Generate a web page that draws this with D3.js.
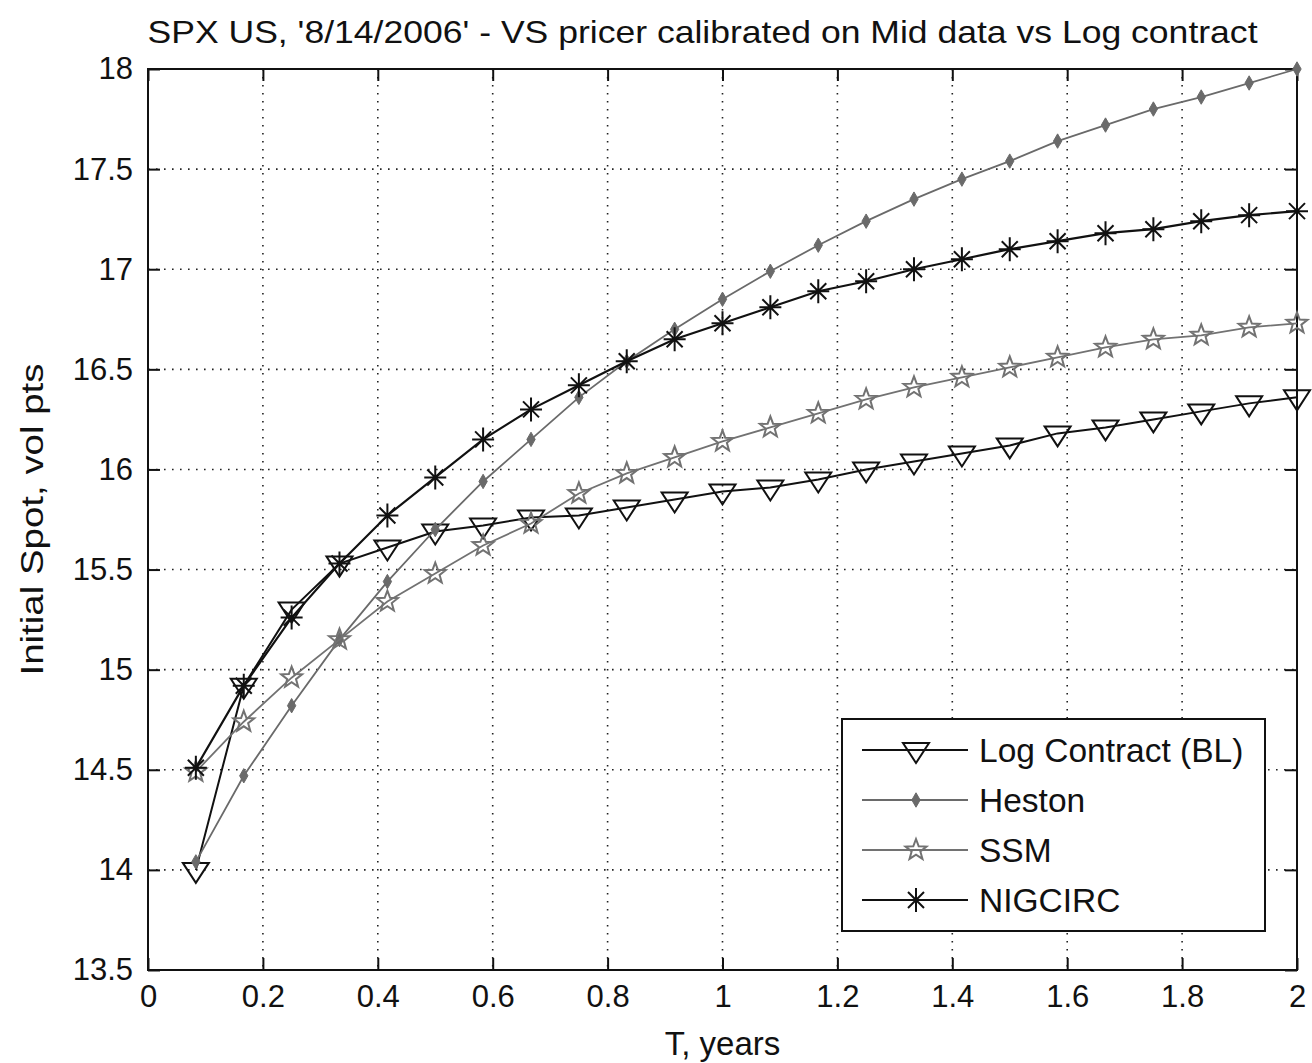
<!DOCTYPE html>
<html>
<head>
<meta charset="utf-8">
<script src="https://cdn.jsdelivr.net/npm/d3@7"></script>
<style>
  body { margin: 0; background: #fff; }
  text { font-family: 'Liberation Sans', Arial, sans-serif; fill: #111; }
</style>
</head>
<body>
<script>
// maturities, years (monthly points)
const T = [0.0833, 0.1667, 0.25, 0.3333, 0.4167, 0.5, 0.5833, 0.6667, 0.75, 0.8333, 0.9167, 1,
  1.0833, 1.1667, 1.25, 1.3333, 1.4167, 1.5, 1.5833, 1.6667, 1.75, 1.8333, 1.9167, 2]

const logContract = [14.00, 14.92, 15.30, 15.53, 15.61, 15.69, 15.72, 15.76, 15.77, 15.81, 15.85, 15.89,
  15.91, 15.95, 16.00, 16.04, 16.08, 16.12, 16.18, 16.21, 16.25, 16.29, 16.33, 16.36]
const heston = [14.04, 14.47, 14.82, 15.15, 15.44, 15.70, 15.94, 16.15, 16.36, 16.54, 16.70, 16.85,
  16.99, 17.12, 17.24, 17.35, 17.45, 17.54, 17.64, 17.72, 17.80, 17.86, 17.93, 18.00]
const ssm = [14.49, 14.74, 14.96, 15.15, 15.34, 15.48, 15.62, 15.73, 15.88, 15.98, 16.06, 16.14,
  16.21, 16.28, 16.35, 16.41, 16.46, 16.51, 16.56, 16.61, 16.65, 16.67, 16.71, 16.73]
const nigcirc = [14.51, 14.92, 15.26, 15.53, 15.77, 15.96, 16.15, 16.30, 16.42, 16.54, 16.65, 16.73,
  16.81, 16.89, 16.94, 17.00, 17.05, 17.10, 17.14, 17.18, 17.20, 17.24, 17.27, 17.29]

const seriesNames = ['Log Contract (BL)', 'Heston', 'SSM', 'NIGCIRC']
const xTicks = [0, 0.2, 0.4, 0.6, 0.8, 1, 1.2, 1.4, 1.6, 1.8, 2]
const yTicks = [13.5, 14, 14.5, 15, 15.5, 16, 16.5, 17, 17.5, 18]

const width = 1312
const height = 1063
const margin = { top: 69, right: 15, bottom: 93, left: 148 }

const svg = d3.select('body').append('svg')
  .attr('width', width)
  .attr('height', height)
  .attr('viewBox', [0, 0, width, height])

const x = d3.scaleLinear().domain([0, 2]).range([margin.left, width - margin.right])
const y = d3.scaleLinear().domain([13.5, 18]).range([height - margin.bottom, margin.top])

// dotted grid
const grid = svg.append('g')
  .attr('stroke', '#222')
  .attr('stroke-width', 1.6)
  .attr('stroke-dasharray', '1.6 6.4')
grid.selectAll('.gx')
  .data(xTicks.slice(1, -1))
  .join('line')
    .attr('x1', d => x(d)).attr('x2', d => x(d))
    .attr('y1', y(18)).attr('y2', y(13.5))
grid.selectAll('.gy')
  .data(yTicks.slice(1, -1))
  .join('line')
    .attr('y1', d => y(d)).attr('y2', d => y(d))
    .attr('x1', x(0)).attr('x2', x(2))

// axes, ticks pointing inward
const styleAxis = (g) => {
  g.select('.domain').remove()
  g.selectAll('.tick line').attr('stroke', '#111').attr('stroke-width', 2)
  g.selectAll('.tick text').attr('font-size', 31).attr('fill', '#111')
}
svg.append('g')
  .attr('transform', `translate(0,${y(13.5)})`)
  .call(d3.axisBottom(x).tickValues(xTicks).tickFormat(d => d).tickSize(-12).tickPadding(15))
  .call(styleAxis)
svg.append('g')
  .attr('transform', `translate(${x(0)},0)`)
  .call(d3.axisLeft(y).tickValues(yTicks).tickFormat(d => d).tickSize(-12).tickPadding(15))
  .call(styleAxis)
svg.append('g')
  .attr('transform', `translate(0,${y(18)})`)
  .call(d3.axisTop(x).tickValues(xTicks).tickFormat('').tickSize(-12))
  .call(styleAxis)
svg.append('g')
  .attr('transform', `translate(${x(2)},0)`)
  .call(d3.axisRight(y).tickValues(yTicks).tickFormat('').tickSize(-12))
  .call(styleAxis)

svg.selectAll('.axis text').attr('font-family', 'Liberation Sans, Arial')

// frame
svg.append('rect')
  .attr('x', x(0)).attr('y', y(18))
  .attr('width', x(2) - x(0)).attr('height', y(13.5) - y(18))
  .attr('fill', 'none')
  .attr('stroke', '#111')
  .attr('stroke-width', 2)

// marker shapes
const star = (ro, ri) => {
  const pts = d3.range(10).map(i => {
    const a = -Math.PI / 2 + i * Math.PI / 5
    const r = i % 2 ? ri : ro
    return [r * Math.cos(a), r * Math.sin(a)]
  })
  return 'M' + pts.join('L') + 'Z'
}
const markers = {
  tri: { d: 'M-13,-7H13L0,13Z', fill: 'none', width: 2 },
  dot: { d: d3.symbol(d3.symbolDiamond, 60)(), fill: 'currentColor', width: 1 },
  pent: { d: star(11, 4.6), fill: 'none', width: 2 },
  ast: { d: 'M-11,0H11M0,-12V12M-8,-8L8,8M-8,8L8,-8', fill: 'none', width: 2 }
}

const series = [
  { name: seriesNames[0], values: logContract, color: '#111', marker: 'tri', lw: 2 },
  { name: seriesNames[1], values: heston, color: '#6a6a6a', marker: 'dot', lw: 1.8 },
  { name: seriesNames[2], values: ssm, color: '#727272', marker: 'pent', lw: 1.8 },
  { name: seriesNames[3], values: nigcirc, color: '#111', marker: 'ast', lw: 2.2 }
]

const line = d3.line().x((d, i) => x(T[i])).y(d => y(d))

const drawMarker = (g, m, color) => g.append('path')
  .attr('d', markers[m].d)
  .attr('fill', markers[m].fill === 'none' ? 'none' : color)
  .attr('stroke', color)
  .attr('stroke-width', markers[m].width)

series.forEach(s => {
  const g = svg.append('g')
  g.append('path')
    .attr('d', line(s.values))
    .attr('fill', 'none')
    .attr('stroke', s.color)
    .attr('stroke-width', s.lw)
  g.selectAll('g')
    .data(s.values)
    .join('g')
      .attr('transform', (d, i) => `translate(${x(T[i])},${y(d)})`)
      .each(function () { drawMarker(d3.select(this), s.marker, s.color) })
})

// legend
const legend = svg.append('g').attr('transform', 'translate(842,719)')
legend.append('rect')
  .attr('width', 423).attr('height', 212)
  .attr('fill', '#fff')
  .attr('stroke', '#111')
  .attr('stroke-width', 2)
series.forEach((s, i) => {
  const row = legend.append('g').attr('transform', `translate(0,${31 + i * 50})`)
  row.append('line')
    .attr('x1', 20).attr('x2', 126)
    .attr('stroke', s.color)
    .attr('stroke-width', s.lw)
  drawMarker(row.append('g').attr('transform', 'translate(74,0)'), s.marker, s.color)
  row.append('text')
    .attr('x', 137)
    .attr('dy', '0.36em')
    .attr('font-size', 33.5)
    .text(s.name)
})

// titles
svg.append('text')
  .attr('x', x(1) - 20).attr('y', 43)
  .attr('text-anchor', 'middle')
  .attr('font-size', 32)
  .attr('textLength', 1110)
  .attr('lengthAdjust', 'spacingAndGlyphs')
  .text("SPX US, '8/14/2006' - VS pricer calibrated on Mid data vs Log contract")

svg.append('text')
  .attr('x', x(1)).attr('y', 1055)
  .attr('text-anchor', 'middle')
  .attr('font-size', 33)
  .text('T, years')

svg.append('text')
  .attr('transform', `translate(43,${(y(13.5) + y(18)) / 2}) rotate(-90)`)
  .attr('text-anchor', 'middle')
  .attr('font-size', 31)
  .attr('textLength', 312)
  .attr('lengthAdjust', 'spacingAndGlyphs')
  .text('Initial Spot, vol pts')
</script>
</body>
</html>
